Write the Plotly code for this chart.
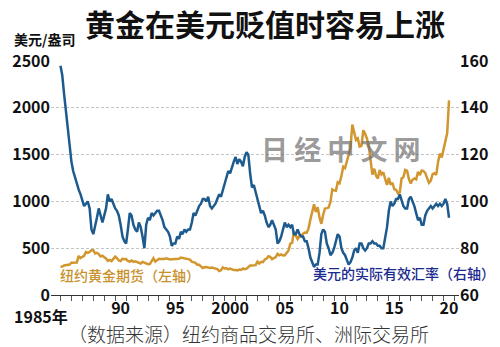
import pandas as pd
import plotly.graph_objects as go

# Bimonthly samples (Jan, Mar, May, Jul, Sep, Nov) from Jan 1985 to Jul 2020
gold = [
    303, 304, 316, 317, 323, 325,      # 1985
    345, 345, 342, 348, 417, 395,      # 1986
    408, 418, 460, 450, 460, 478,      # 1987
    478, 444, 451, 437, 412, 420,      # 1988
    404, 390, 365, 375, 362, 393,      # 1989
    410, 393, 369, 362, 388, 381,      # 1990
    383, 363, 357, 368, 354, 360,      # 1991
    354, 344, 337, 353, 345, 335,      # 1992
    329, 330, 367, 392, 356, 374,      # 1993
    387, 384, 381, 385, 392, 384,      # 1994
    379, 383, 385, 386, 383, 386,      # 1995
    400, 396, 392, 383, 383, 378,      # 1996
    355, 352, 344, 324, 323, 306,      # 1997
    289, 296, 299, 293, 289, 294,      # 1998
    287, 286, 277, 256, 265, 294,      # 1999
    284, 286, 275, 282, 273, 266,      # 2000
    266, 263, 272, 268, 283, 276,      # 2001
    282, 294, 314, 314, 319, 319,      # 2002
    356, 336, 355, 351, 379, 389,      # 2003
    414, 407, 384, 398, 405, 439,      # 2004
    424, 434, 423, 424, 456, 476,      # 2005
    549, 557, 675, 633, 598, 628,      # 2006
    631, 654, 667, 665, 712, 806,      # 2007
    889, 968, 886, 939, 829, 760,      # 2008
    858, 924, 928, 934, 996, 1128,     # 2009
    1118, 1113, 1205, 1193, 1271, 1370,  # 2010
    1356, 1424, 1510, 1573, 1820, 1739,  # 2011
    1656, 1673, 1586, 1593, 1760, 1722,  # 2012
    1670, 1593, 1415, 1286, 1349, 1275,  # 2013
    1244, 1336, 1288, 1311, 1238, 1176,  # 2014
    1251, 1178, 1199, 1130, 1125, 1086,  # 2015
    1097, 1245, 1260, 1337, 1326, 1239,  # 2016
    1192, 1231, 1246, 1236, 1315, 1282,  # 2017
    1331, 1325, 1303, 1237, 1198, 1221,  # 2018
    1291, 1300, 1284, 1420, 1510, 1470,  # 2019
    1570, 1640, 1730, 2080,              # 2020
]

usd_reer = [
    158, 154, 146, 138, 130, 124,   # 1985
    117, 113, 110, 108, 105, 103,   # 1986
    100, 98, 99, 100, 97, 88,       # 1987
    86, 89, 93, 97, 94, 91,         # 1988
    94, 97, 103, 100, 101, 99,      # 1989
    97, 96, 94, 90, 85, 83,         # 1990
    82, 88, 95, 94, 90, 88,         # 1991
    87, 91, 89, 85, 80, 90,         # 1992
    93, 92, 95, 94, 95, 96,         # 1993
    96, 94, 92, 89, 88, 87,         # 1994
    85, 81, 82, 82, 85, 84,         # 1995
    87, 86, 88, 87, 88, 88,         # 1996
    91, 95, 94, 96, 98, 99,         # 1997
    101, 101, 100, 102, 98, 97,     # 1998
    98, 99, 101, 103, 102, 105,     # 1999
    107, 111, 113, 112, 115, 117,   # 2000
    119, 116, 118, 117, 115, 119,   # 2001
    121, 120, 112, 106, 107, 104,   # 2002
    100, 97, 95, 96, 94, 91,        # 2003
    89, 90, 92, 90, 88, 82,         # 2004
    83, 85, 88, 91, 89, 90,         # 2005
    89, 90, 86, 86, 88, 86,         # 2006
    85, 85, 83, 83, 80, 76,         # 2007
    74, 72, 73, 73, 78, 86,         # 2008
    88, 87, 82, 80, 77, 78,         # 2009
    80, 83, 86, 85, 80, 78,         # 2010
    77, 75, 73, 74, 76, 79,         # 2011
    80, 78, 82, 82, 80, 79,         # 2012
    80, 82, 82, 83, 82, 82,         # 2013
    81, 81, 80, 80, 84, 89,         # 2014
    96, 100, 98, 99, 101, 101,      # 2015
    103, 100, 98, 97, 97, 101,      # 2016
    102, 100, 98, 95, 92, 93,       # 2017
    90, 90, 94, 96, 97, 98,         # 2018
    97, 98, 99, 98, 99, 98,         # 2019
    99, 101, 99, 93,                # 2020
]

dates = pd.date_range("1985-01-01", periods=len(gold), freq="2MS")

x_label_pos = ["1990-07-01", "1995-07-01", "2000-07-01", "2005-07-01",
               "2010-07-01", "2015-07-01", "2020-07-01"]
x_label_text = ["90", "95", "2000", "05", "10", "15", "20"]
year_ticks = [f"{y}-01-01" for y in range(1985, 2022)]
left_ticks = [0, 500, 1000, 1500, 2000, 2500]
right_ticks = [60, 80, 100, 120, 140, 160]

GOLD = "#d2962f"
BLUE = "#1d5b8f"
FONT = "Noto Sans CJK SC"
TICKFONT = dict(size=16, color="#111", family=FONT, weight=600)
XRANGE = ["1984-02-20", "2021-05-30"]

fig = go.Figure()
fig.add_trace(go.Scatter(x=dates, y=gold, mode="lines",
                         line=dict(color=GOLD, width=2.5), yaxis="y"))
fig.add_trace(go.Scatter(x=dates, y=usd_reer, mode="lines",
                         line=dict(color=BLUE, width=2.5), yaxis="y2"))
# invisible trace so the label axis (x2) is drawn
fig.add_trace(go.Scatter(x=[dates[0]], y=[gold[0]], mode="markers",
                         marker=dict(opacity=0), xaxis="x2", yaxis="y",
                         hoverinfo="skip"))

fig.update_layout(
    width=500, height=347,
    margin=dict(l=50, r=40, t=61, b=52),
    paper_bgcolor="white", plot_bgcolor="white",
    showlegend=False,
    font=dict(family=FONT, color="#111"),
    title=dict(text="<b>黄金在美元贬值时容易上涨</b>", x=0.53, xanchor="center",
               y=1 - 25 / 347, yanchor="middle", font=dict(size=30, color="#111", family=FONT)),
    xaxis=dict(
        type="date", range=XRANGE,
        showgrid=False, zeroline=False,
        showline=True, linecolor="#333", linewidth=1.2,
        tickmode="array", tickvals=year_ticks, ticktext=[""] * len(year_ticks),
        showticklabels=False,
        ticks="outside", ticklen=5, tickcolor="#555", tickwidth=1,
    ),
    xaxis2=dict(
        type="date", range=XRANGE, overlaying="x", side="bottom", anchor="y",
        showgrid=False, zeroline=False, showline=False,
        tickmode="array", tickvals=x_label_pos, ticktext=x_label_text,
        ticks="", tickfont=TICKFONT, ticklabelstandoff=2,
    ),
    yaxis=dict(
        range=[0, 2500], tickvals=left_ticks, showgrid=True,
        gridcolor="#c4c4c4", griddash="3px,2px", gridwidth=1,
        zeroline=False, showline=False, ticks="",
        tickfont=TICKFONT,
    ),
    yaxis2=dict(
        range=[60, 160], tickvals=right_ticks, overlaying="y", side="right",
        showgrid=False, zeroline=False, showline=False, ticks="",
        tickfont=TICKFONT,
    ),
    annotations=[
        dict(text="美元/盎司", xref="paper", yref="paper", x=-0.095, y=(295 - 39) / 234,
             xanchor="left", yanchor="middle", showarrow=False,
             font=dict(size=14, color="#111", family=FONT, weight=600)),
        dict(text="1985年", xref="paper", yref="paper", x=(69 - 50) / 410, y=(295 - 316) / 234,
             xanchor="right", yanchor="middle", showarrow=False,
             font=TICKFONT),
        dict(text="纽约黄金期货（左轴）", xref="paper", yref="paper", x=(57 - 50) / 410,
             y=(295 - 275) / 234, xanchor="left", yanchor="middle", showarrow=False,
             font=dict(size=14, color="#c8912c", family=FONT, weight=500)),
        dict(text="美元的实际有效汇率（右轴）", xref="paper", yref="paper", x=(311 - 50) / 410,
             y=(295 - 273) / 234, xanchor="left", yanchor="middle", showarrow=False,
             font=dict(size=14, color="#1b2a8e", family=FONT, weight=500)),
        dict(text="（数据来源）纽约商品交易所、洲际交易所", xref="paper", yref="paper",
             x=(248 - 50) / 410, y=(295 - 333) / 234, xanchor="center", yanchor="middle",
             showarrow=False, font=dict(size=19, color="#333", family=FONT, weight=300)),
        dict(text="<b>日 经 中 文 网</b>", xref="paper", yref="paper", x=(341 - 50) / 410,
             y=(295 - 148) / 234, xanchor="center", yanchor="middle", showarrow=False,
             font=dict(size=27, color="rgba(110,110,110,0.7)", family=FONT)),
    ],
)

fig.write_html("out.html")
